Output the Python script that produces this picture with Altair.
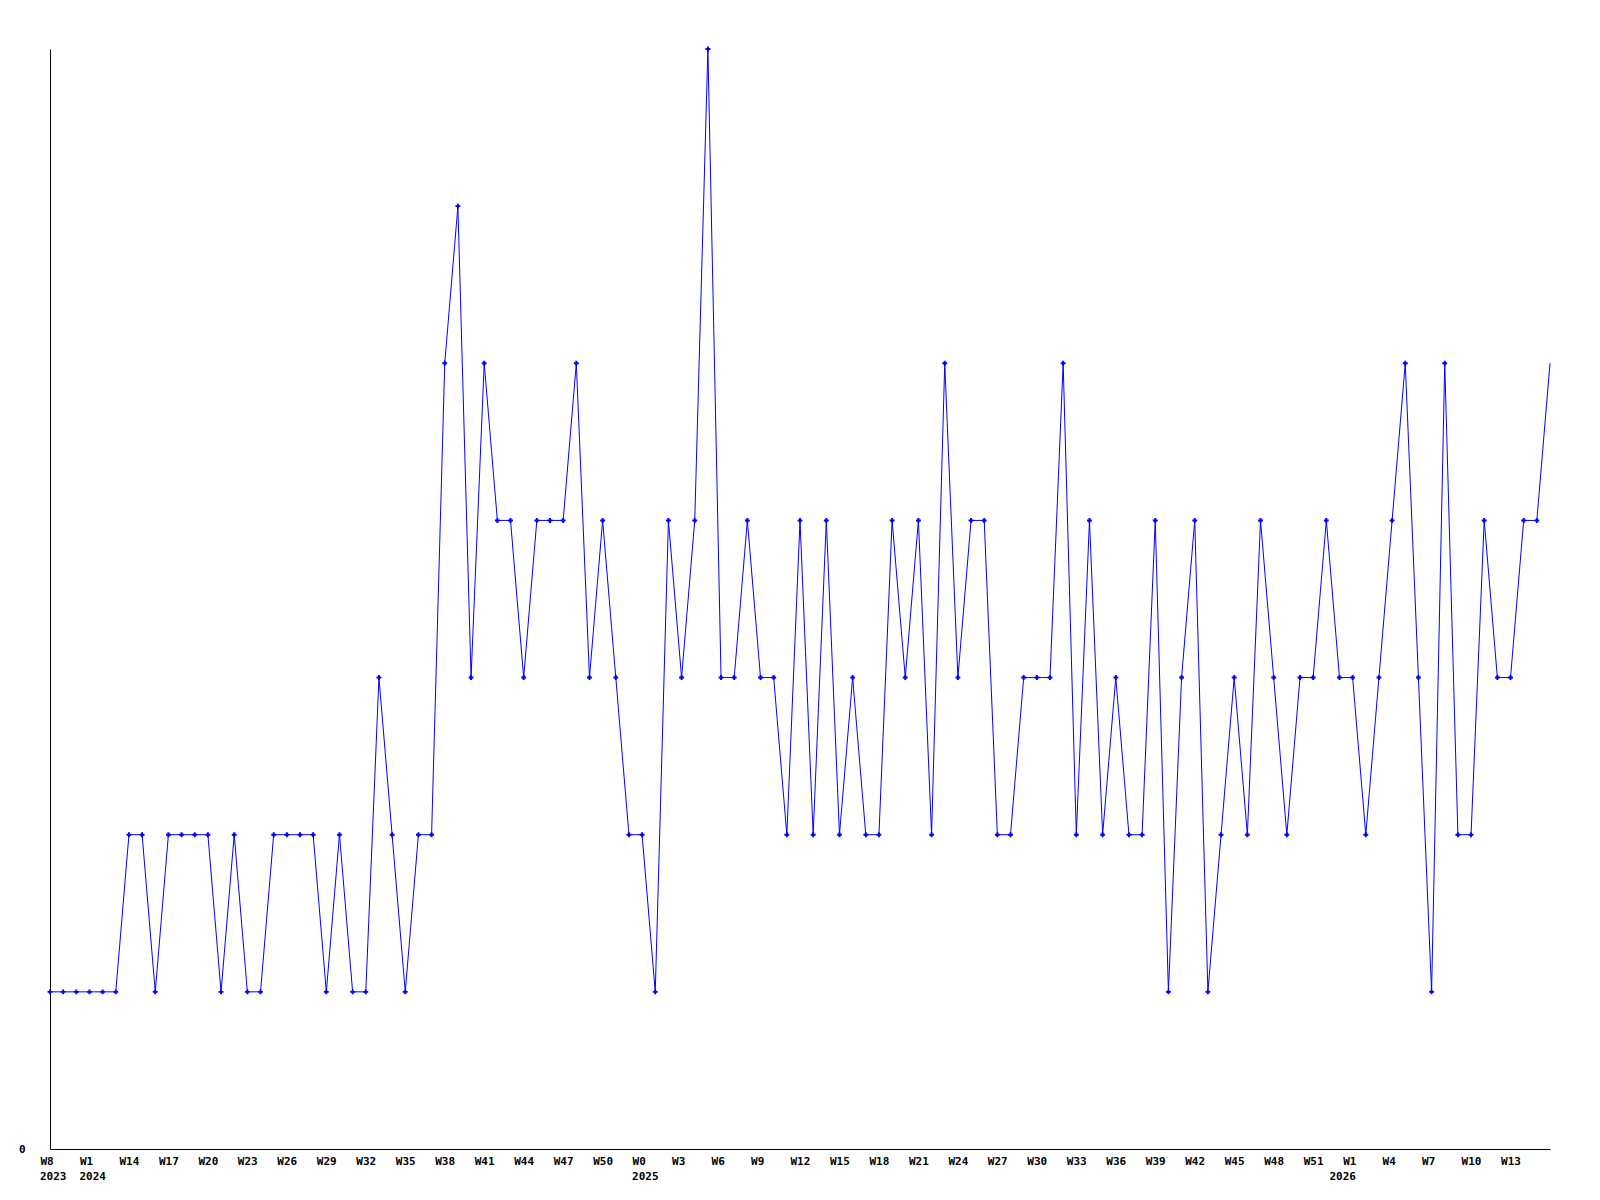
import json
import altair as alt
import pandas as pd

# weekly values (one per week, 115 weeks)
values = [1, 1, 1, 1, 1, 1, 2, 2, 1, 2,
          2, 2, 2, 1, 2, 1, 1, 2, 2, 2,
          2, 1, 2, 1, 1, 3, 2, 1, 2, 2,
          5, 6, 3, 5, 4, 4, 3, 4, 4, 4,
          5, 3, 4, 3, 2, 2, 1, 4, 3, 4,
          7, 3, 3, 4, 3, 3, 2, 4, 2, 4,
          2, 3, 2, 2, 4, 3, 4, 2, 5, 3,
          4, 4, 2, 2, 3, 3, 3, 5, 2, 4,
          2, 3, 2, 2, 4, 1, 3, 4, 1, 2,
          3, 2, 4, 3, 2, 3, 3, 4, 3, 3,
          2, 3, 4, 5, 3, 1, 5, 2, 2, 4,
          3, 3, 4, 4, 5]

# x tick labels, one every 3 weeks
week_labels = ["W8", "W1", "W14", "W17", "W20", "W23", "W26", "W29", "W32", "W35",
               "W38", "W41", "W44", "W47", "W50", "W0", "W3", "W6", "W9", "W12",
               "W15", "W18", "W21", "W24", "W27", "W30", "W33", "W36", "W39", "W42",
               "W45", "W48", "W51", "W1", "W4", "W7", "W10", "W13"]
tick_step = 3

# year labels and the week index they sit under
year_text = ["2023", "2024", "2025", "2026"]
year_index = [0, 3, 45, 98]

n = len(values)
df = pd.DataFrame({"i": list(range(n)), "v": values})
years = pd.DataFrame({"i": year_index, "t": year_text})
tick_values = [k * tick_step for k in range(len(week_labels))]

W, H = 1500, 1100
FONT = "DejaVu Sans Mono"
BLUE = "#0000ff"

label_expr = json.dumps(week_labels) + "[round(datum.value / %d)]" % tick_step

xscale = alt.Scale(domain=[0, n - 1], nice=False, zero=False)
yscale = alt.Scale(domain=[0, 7], nice=False)

x_axis = alt.Axis(values=tick_values, labelExpr=label_expr, ticks=False, grid=False,
                  domainColor="black", domainWidth=1, labelFont=FONT, labelFontSize=11,
                  labelFontWeight="bold", labelColor="black", labelAlign="left",
                  labelOffset=-10, labelBaseline="top", labelPadding=6,
                  labelFlush=False, labelOverlap=False, title=None)
y_axis = alt.Axis(values=[0], format="d", ticks=False, grid=False, domainColor="black",
                  domainWidth=1, labelFont=FONT, labelFontSize=11, labelFontWeight="bold",
                  labelColor="black", labelPadding=25, labelFlush=False, title=None)

base = alt.Chart(df)
line = base.mark_line(color=BLUE, strokeWidth=1).encode(
    x=alt.X("i:Q", scale=xscale, axis=x_axis),
    y=alt.Y("v:Q", scale=yscale, axis=y_axis),
)
pts = base.transform_filter(alt.datum.i < n - 1).mark_point(
    shape="cross", filled=True, size=24, color=BLUE, opacity=1
).encode(
    x=alt.X("i:Q", scale=xscale),
    y=alt.Y("v:Q", scale=yscale),
)
yr = alt.Chart(years).mark_text(
    font=FONT, fontSize=11, fontWeight="bold", color="black",
    align="left", baseline="middle", dx=-10
).encode(
    x=alt.X("i:Q", scale=xscale),
    y=alt.value(H + 28),
    text="t:N",
)

chart = alt.layer(line, pts, yr).properties(
    width=W, height=H,
    autosize=alt.AutoSizeParams(type="none"),
    padding={"left": 42, "top": 41, "right": 42, "bottom": 43},
    background="white",
).configure_view(stroke=None)

chart.save("out.html", embed_options={"renderer": "svg", "actions": False})
